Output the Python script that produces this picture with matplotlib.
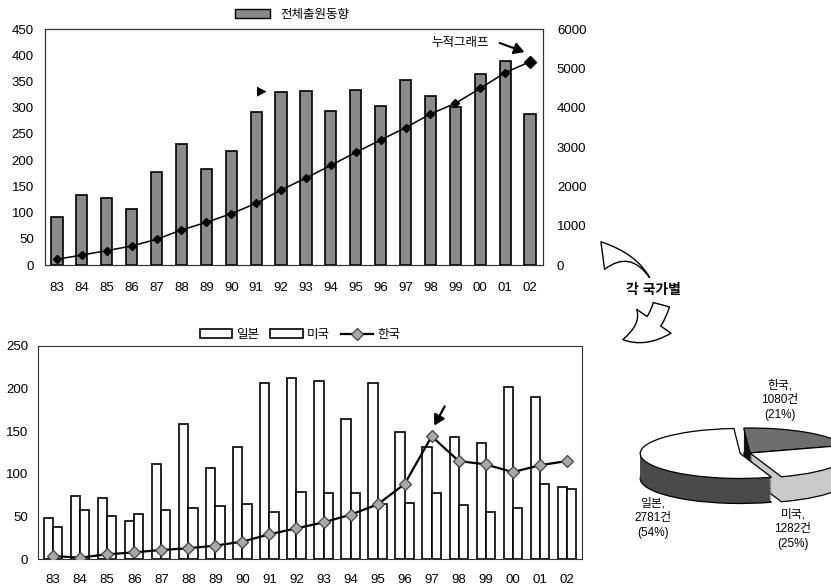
import matplotlib
matplotlib.use('Agg')
import matplotlib.pyplot as plt
import numpy as np
from matplotlib.patches import FancyArrowPatch, Patch
from matplotlib.lines import Line2D

plt.rcParams['font.family'] = ['Liberation Sans', 'Noto Sans CJK KR', 'DejaVu Sans']

# ---------------- data ----------------
years = ['83', '84', '85', '86', '87', '88', '89', '90', '91', '92',
         '93', '94', '95', '96', '97', '98', '99', '00', '01', '02']
total = [91, 134, 128, 106, 177, 230, 184, 217, 291, 329,
         331, 294, 334, 303, 353, 322, 301, 365, 389, 287]
cumulative = [144, 254, 364, 483, 653, 890, 1085, 1305, 1568, 1907,
              2212, 2534, 2864, 3178, 3492, 3839, 4110, 4492, 4890, 5169]
japan = [48, 74, 72, 45, 111, 158, 107, 131, 207, 213,
         209, 164, 206, 149, 131, 143, 136, 202, 190, 85]
usa = [38, 58, 50, 53, 58, 60, 62, 65, 55, 79,
       77, 77, 64, 66, 77, 63, 55, 60, 88, 82]
korea = [3.5, 1.6, 5.5, 7.8, 10.6, 12.6, 15.7, 20.4, 29, 36,
         43, 52, 64, 88, 144, 115, 111, 102, 110, 115]
top_yticks = [0, 50, 100, 150, 200, 250, 300, 350, 400, 450]
top_y2ticks = [0, 1000, 2000, 3000, 4000, 5000, 6000]
bot_yticks = [0, 50, 100, 150, 200, 250]
pie_names = ['한국', '일본', '미국']
pie_values = [1080, 2781, 1282]
pie_pct = [21, 54, 25]

W, H = 831, 588
fig = plt.figure(figsize=(W / 100, H / 100), dpi=100)
fig.patch.set_facecolor('white')


def rect(x0, y0, x1, y1):
    return [x0 / W, 1 - y1 / H, (x1 - x0) / W, (y1 - y0) / H]


x = np.arange(len(years))
FS = 9.5
spine_col = '#333333'

# ---------------- top chart ----------------
ax1 = fig.add_axes(rect(45, 29, 543, 265))
ax1.bar(x, total, width=0.45, color='#8a8a8a', edgecolor='black', linewidth=1.2, zorder=2)
ax1.set_xlim(-0.48, len(years) - 0.48)
ax1.set_ylim(0, 450)
ax1.set_yticks(top_yticks)
ax1.set_xticks(x)
ax1.set_xticklabels(years)
ax1.tick_params(axis='both', length=0, labelsize=FS)
ax1.tick_params(axis='x', pad=12.5)
ax1.tick_params(axis='y', pad=8)
for s in ax1.spines.values():
    s.set_color(spine_col)
    s.set_linewidth(0.8)

ax2 = ax1.twinx()
ax2.plot(x, cumulative, color='black', linewidth=1.1, marker='D', markersize=4,
         markerfacecolor='black', zorder=3)
ax2.plot(x[-1], cumulative[-1], marker='D', markersize=6.5, color='black')
ax2.set_ylim(0, 6000)
ax2.set_yticks(top_y2ticks)
ax2.tick_params(axis='y', length=0, labelsize=FS, pad=10)
for s in ax2.spines.values():
    s.set_color(spine_col)
    s.set_linewidth(0.8)

ax1.legend(handles=[Patch(facecolor='#8a8a8a', edgecolor='black', linewidth=1.0)],
           labels=['전체출원동향'], loc='center', frameon=False,
           bbox_to_anchor=(292 / W, 1 - 15 / H), bbox_transform=fig.transFigure,
           fontsize=9, handlelength=2.8, handleheight=0.7, handletextpad=0.8,
           borderpad=0)

# ---------------- bottom chart ----------------
ax3 = fig.add_axes(rect(38, 346, 582, 559))
bw = 0.34
hj = ax3.bar(x - 0.17, japan, width=bw, color='white', edgecolor='black', linewidth=1.2,
             zorder=2)
hu = ax3.bar(x + 0.17, usa, width=bw, color='white', edgecolor='black', linewidth=1.2,
             zorder=2)
hk, = ax3.plot(x, korea, color='black', linewidth=1.6, marker='D', markersize=6,
               markerfacecolor='#a8a8a8', markeredgecolor='#444444', markeredgewidth=0.9,
               zorder=3)
ax3.set_xlim(-0.56, len(years) - 0.44)
ax3.set_ylim(0, 250)
ax3.set_yticks(bot_yticks)
ax3.set_xticks(x)
ax3.set_xticklabels(years)
ax3.tick_params(axis='both', length=0, labelsize=FS)
ax3.tick_params(axis='x', pad=11)
ax3.tick_params(axis='y', pad=7)
for s in ax3.spines.values():
    s.set_color(spine_col)
    s.set_linewidth(0.8)
ax3.legend(handles=[hj, hu, hk], labels=['일본', '미국', '한국'],
           loc='center', ncol=3, frameon=False,
           bbox_to_anchor=(300 / W, 1 - 335 / H), bbox_transform=fig.transFigure,
           fontsize=9, handlelength=2.6, handleheight=0.7, handletextpad=0.3,
           columnspacing=0.9, borderpad=0)

# ---------------- 3D-ish pie ----------------
axp = fig.add_axes(rect(650, 428, 850, 478))
start = 18
explode = [0, 0.1, 0]
side_colors = ['#111111', '#4a4a4a', '#cacaca']
top_colors = ['#6e6e6e', 'white', 'white']
depth = 1.0
layers = np.linspace(depth, 0.0, 16)
for i, d in enumerate(layers):
    wedges, _ = axp.pie(pie_values, startangle=start, explode=explode,
                        colors=side_colors, center=(0, -d),
                        wedgeprops=dict(linewidth=0.9 if i == 0 else 0,
                                        edgecolor='black'))
    for w in wedges:
        w.set_clip_on(False)
wedges, _ = axp.pie(pie_values, startangle=start, explode=explode,
                    colors=top_colors, center=(0, 0),
                    wedgeprops=dict(linewidth=0.9, edgecolor='black'))
for w in wedges:
    w.set_clip_on(False)
axp.set_aspect('auto')
axp.set_xlim(-1, 1)
axp.set_ylim(-1, 1)
axp.axis('off')

# ---------------- overlay annotations ----------------
ov = fig.add_axes([0, 0, 1, 1])
ov.set_xlim(0, W)
ov.set_ylim(H, 0)
ov.axis('off')

label_pos = {'한국': (780, 400), '일본': (653, 518), '미국': (793, 529)}
for name, val, pct in zip(pie_names, pie_values, pie_pct):
    px, py = label_pos[name]
    ov.text(px, py, f'{name},\n{val}건\n({pct}%)', ha='center', va='center',
            fontsize=8.5, linespacing=1.3)

ov.text(653, 290, '각 국가별', ha='center', va='center', fontsize=10, fontweight='bold')

ov.text(460, 43, '누적그래프', ha='center', va='center', fontsize=9)
ov.annotate('', xy=(527, 53), xytext=(497, 42),
            arrowprops=dict(arrowstyle='-|>,head_length=0.6,head_width=0.35',
                            color='black', lw=1.5))
ov.text(262, 91, '▶', ha='center', va='center', fontsize=9, family='DejaVu Sans')
ov.annotate('', xy=(433, 428), xytext=(446, 404),
            arrowprops=dict(arrowstyle='-|>,head_length=0.6,head_width=0.35',
                            color='black', lw=1.6))

a1 = FancyArrowPatch((600, 256), (651, 280),
                     arrowstyle='wedge,tail_width=1.0,shrink_factor=0.2',
                     connectionstyle='arc3,rad=-0.35', mutation_scale=20,
                     facecolor='white', edgecolor='black', linewidth=1.0)
ov.add_patch(a1)
a2 = FancyArrowPatch((662, 302), (620, 340),
                     arrowstyle='simple,head_length=1.3,head_width=1.5,tail_width=0.6',
                     connectionstyle='arc3,rad=-0.35', mutation_scale=20,
                     facecolor='white', edgecolor='black', linewidth=1.0)
ov.add_patch(a2)

fig.savefig('out.png', dpi=100, facecolor='white')
